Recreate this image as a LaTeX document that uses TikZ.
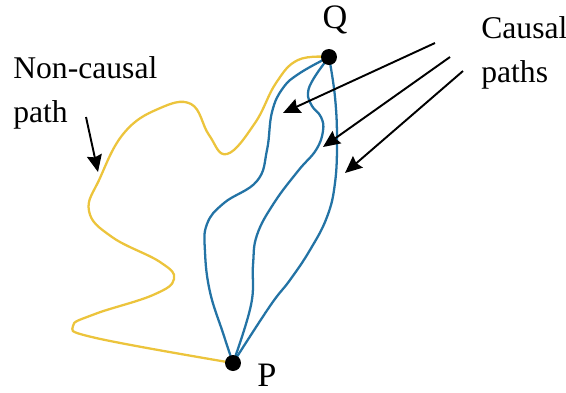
\documentclass[tikz,border=0pt]{standalone}
\usepackage{fontspec}
\setmainfont{Liberation Serif}
\usetikzlibrary{arrows.meta, positioning}
\definecolor{pathyellow}{RGB}{236, 196, 60}
\definecolor{pathblue}{RGB}{35, 115, 165}
\tikzset{
  dot/.style={circle, fill=black, inner sep=0pt, minimum size=0.32cm},
  lbl/.style={font=\fontsize{18}{24.5}\selectfont, inner sep=0pt},
  endlbl/.style={font=\fontsize{19.5}{24}\selectfont, inner sep=0pt},
  pointer/.style={line width=1.1pt, -{Stealth[length=3.4mm, width=3mm, inset=0.4mm]}},
  curve/.style={line width=1.3pt},
}

\begin{document}
\begin{tikzpicture}[x=0.02cm, y=-0.02cm]
  \useasboundingbox (0,0) rectangle (566,393);
  % End points
  \coordinate (Q) at (329,57);
  \coordinate (P) at (233,363);

  % Non-causal path
  \draw[curve, pathyellow] plot [smooth, tension=0.7] coordinates {(Q) (298,60) (276,83) (255,123) (227,154) (209,135) (191,104) (158,109) (124,133) (100,178) (89,211) (112,237) (160,262) (174,279) (153,295) (95,314) (73,326) (96,338) (P)};

  % Causal paths
  \draw[curve, pathblue] plot [smooth, tension=0.7] coordinates {(Q) (300,73) (283,88) (272,112) (267,150) (257,181) (224,203) (207,224) (205,252) (210,292) (223,333) (P)};
  \draw[curve, pathblue] plot [smooth, tension=0.7] coordinates {(Q) (314,78) (308,93) (312,106) (321,117) (323,131) (316,150) (298,171) (274,203) (257,235) (253,265) (251,305) (P)};
  \draw[curve, pathblue] plot [smooth, tension=0.7] coordinates {(Q) (335,97) (337,140) (335,183) (327,217) (310,250) (290,280) (270,306) (P)};

  \node[dot] (Qdot) at (Q) {};
  \node[dot] (Pdot) at (P) {};
  \node[endlbl, anchor=base] (Qlabel) at (335,28) {Q};
  \node[endlbl, anchor=base west] (Plabel) at (257,386) {P};

  % Labels
  \node[lbl, align=left, anchor=base west] (noncausal) at (13,122) {Non-causal\\path};
  \node[lbl, align=left, anchor=base west] (causal) at (481,82) {Causal\\paths};

  % Pointers
  \coordinate (n0) at (86,117); \coordinate (n1) at (98,172);
  \coordinate (c0) at (435,43); \coordinate (c1) at (283,113);
  \coordinate (d0) at (450,57); \coordinate (d1) at (323,147);
  \coordinate (e0) at (463,71); \coordinate (e1) at (345,173);
  \draw[pointer] (n0) -- (n1);
  \draw[pointer] (c0) -- (c1);
  \draw[pointer] (d0) -- (d1);
  \draw[pointer] (e0) -- (e1);
\end{tikzpicture}
\end{document}
